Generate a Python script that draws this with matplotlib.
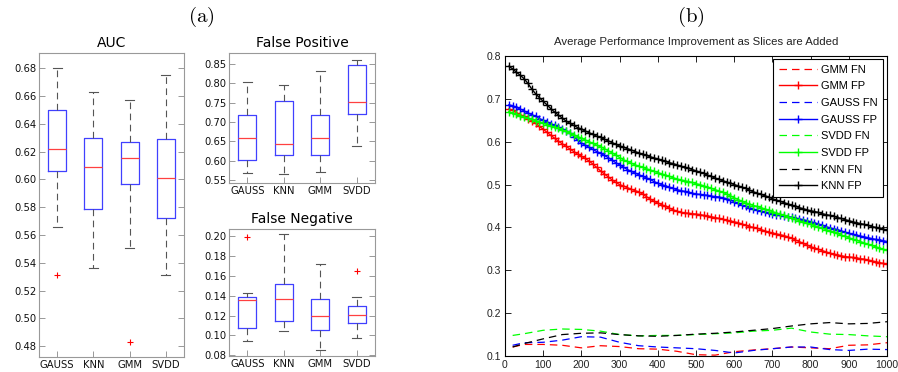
import matplotlib
matplotlib.use('Agg')
import matplotlib.pyplot as plt

plt.rcParams['mathtext.fontset'] = 'cm'

# ---- (a) boxplot summaries per classifier ----
methods = ['GAUSS', 'KNN', 'GMM', 'SVDD']

auc_med = [0.622, 0.609, 0.615, 0.601]
auc_q1 = [0.606, 0.579, 0.597, 0.572]
auc_q3 = [0.650, 0.630, 0.627, 0.629]
auc_lo = [0.566, 0.536, 0.551, 0.531]
auc_hi = [0.680, 0.663, 0.657, 0.675]
auc_out = [[0.531], [], [0.483], []]

fp_med = [0.660, 0.644, 0.658, 0.751]
fp_q1 = [0.602, 0.616, 0.616, 0.721]
fp_q3 = [0.717, 0.755, 0.717, 0.846]
fp_lo = [0.570, 0.565, 0.572, 0.638]
fp_hi = [0.803, 0.795, 0.831, 0.860]
fp_out = [[], [], [], []]

fn_med = [0.136, 0.137, 0.120, 0.121]
fn_q1 = [0.108, 0.115, 0.106, 0.113]
fn_q3 = [0.139, 0.152, 0.137, 0.130]
fn_lo = [0.094, 0.105, 0.085, 0.097]
fn_hi = [0.143, 0.202, 0.172, 0.139]
fn_out = [[0.199], [], [], [0.165]]

# ---- (b) error rate vs number of slices ----
x_fp = list(range(10, 1001, 10))
x_fn = [20, 50, 100, 150, 200, 250, 300, 350, 400, 450, 500,
        550, 600, 650, 700, 750, 800, 850, 900, 950, 1000]

gmm_fp = [0.676, 0.673, 0.668, 0.663, 0.659, 0.654, 0.649, 0.643, 0.636, 0.629,
          0.622, 0.615, 0.608, 0.601, 0.595, 0.589, 0.583, 0.577, 0.571, 0.566,
          0.561, 0.555, 0.548, 0.540, 0.532, 0.525, 0.518, 0.511, 0.505, 0.500,
          0.496, 0.493, 0.489, 0.486, 0.483, 0.478, 0.472, 0.466, 0.461, 0.457,
          0.453, 0.449, 0.445, 0.441, 0.438, 0.435, 0.434, 0.433, 0.432, 0.431,
          0.430, 0.428, 0.427, 0.425, 0.423, 0.421, 0.419, 0.417, 0.415, 0.413,
          0.411, 0.408, 0.405, 0.402, 0.400, 0.398, 0.395, 0.392, 0.389, 0.387,
          0.385, 0.383, 0.381, 0.378, 0.375, 0.371, 0.367, 0.363, 0.359, 0.355,
          0.352, 0.349, 0.346, 0.343, 0.340, 0.338, 0.336, 0.334, 0.332, 0.331,
          0.330, 0.329, 0.327, 0.326, 0.324, 0.322, 0.320, 0.318, 0.316, 0.315]

gauss_fp = [0.686, 0.684, 0.680, 0.676, 0.672, 0.667, 0.663, 0.659, 0.654, 0.650,
            0.646, 0.642, 0.638, 0.634, 0.630, 0.626, 0.620, 0.612, 0.604, 0.597,
            0.592, 0.587, 0.582, 0.577, 0.573, 0.568, 0.563, 0.557, 0.551, 0.546,
            0.541, 0.535, 0.531, 0.527, 0.523, 0.519, 0.516, 0.512, 0.507, 0.503,
            0.500, 0.497, 0.494, 0.491, 0.488, 0.486, 0.484, 0.482, 0.480, 0.478,
            0.477, 0.476, 0.475, 0.473, 0.472, 0.471, 0.469, 0.467, 0.464, 0.460,
            0.456, 0.452, 0.449, 0.446, 0.443, 0.440, 0.438, 0.436, 0.434, 0.432,
            0.430, 0.429, 0.427, 0.425, 0.424, 0.422, 0.420, 0.418, 0.416, 0.413,
            0.411, 0.408, 0.405, 0.402, 0.399, 0.397, 0.395, 0.392, 0.389, 0.386,
            0.384, 0.382, 0.380, 0.378, 0.376, 0.374, 0.372, 0.371, 0.369, 0.367]

svdd_fp = [0.670, 0.667, 0.664, 0.661, 0.658, 0.655, 0.652, 0.649, 0.646, 0.643,
           0.640, 0.637, 0.634, 0.631, 0.628, 0.624, 0.620, 0.616, 0.612, 0.608,
           0.604, 0.600, 0.596, 0.592, 0.588, 0.584, 0.579, 0.574, 0.569, 0.563,
           0.558, 0.554, 0.550, 0.546, 0.543, 0.540, 0.537, 0.534, 0.531, 0.528,
           0.525, 0.522, 0.519, 0.516, 0.513, 0.511, 0.509, 0.507, 0.505, 0.502,
           0.500, 0.497, 0.494, 0.491, 0.488, 0.485, 0.482, 0.478, 0.474, 0.469,
           0.465, 0.461, 0.457, 0.454, 0.451, 0.449, 0.446, 0.443, 0.440, 0.437,
           0.434, 0.431, 0.428, 0.425, 0.422, 0.419, 0.416, 0.413, 0.410, 0.407,
           0.404, 0.401, 0.398, 0.395, 0.392, 0.389, 0.386, 0.382, 0.379, 0.376,
           0.373, 0.370, 0.367, 0.364, 0.361, 0.358, 0.355, 0.352, 0.349, 0.347]

knn_fp = [0.776, 0.770, 0.762, 0.755, 0.747, 0.736, 0.723, 0.712, 0.703, 0.694,
          0.686, 0.677, 0.669, 0.662, 0.655, 0.648, 0.643, 0.638, 0.633, 0.629,
          0.625, 0.621, 0.617, 0.613, 0.610, 0.606, 0.602, 0.598, 0.594, 0.590,
          0.587, 0.584, 0.581, 0.577, 0.574, 0.571, 0.568, 0.565, 0.562, 0.560,
          0.557, 0.554, 0.551, 0.549, 0.546, 0.543, 0.540, 0.538, 0.535, 0.532,
          0.529, 0.526, 0.522, 0.519, 0.515, 0.512, 0.509, 0.506, 0.503, 0.500,
          0.497, 0.494, 0.491, 0.487, 0.483, 0.480, 0.477, 0.474, 0.471, 0.467,
          0.464, 0.461, 0.458, 0.455, 0.452, 0.449, 0.446, 0.444, 0.441, 0.439,
          0.437, 0.435, 0.432, 0.430, 0.428, 0.426, 0.423, 0.421, 0.418, 0.416,
          0.413, 0.411, 0.409, 0.407, 0.405, 0.402, 0.400, 0.398, 0.396, 0.394]

gmm_fn = [0.121, 0.127, 0.127, 0.125, 0.119, 0.124, 0.122, 0.117, 0.116, 0.111, 0.103,
          0.102, 0.110, 0.114, 0.117, 0.121, 0.119, 0.117, 0.125, 0.126, 0.131]
gauss_fn = [0.125, 0.131, 0.132, 0.137, 0.145, 0.144, 0.132, 0.124, 0.121, 0.119, 0.117,
            0.113, 0.107, 0.113, 0.117, 0.121, 0.121, 0.115, 0.113, 0.116, 0.115]
svdd_fn = [0.148, 0.152, 0.160, 0.163, 0.162, 0.158, 0.150, 0.147, 0.148, 0.148, 0.150,
           0.152, 0.154, 0.158, 0.160, 0.165, 0.156, 0.151, 0.150, 0.147, 0.145]
knn_fn = [0.121, 0.129, 0.140, 0.150, 0.153, 0.154, 0.150, 0.147, 0.146, 0.148, 0.151,
          0.153, 0.156, 0.160, 0.164, 0.170, 0.175, 0.178, 0.175, 0.176, 0.180]

series = [('GMM', 'r', gmm_fn, gmm_fp),
          ('GAUSS', 'b', gauss_fn, gauss_fp),
          ('SVDD', '#00ff00', svdd_fn, svdd_fp),
          ('KNN', 'k', knn_fn, knn_fp)]


def make_stats(med, q1, q3, lo, hi, out):
    return [dict(med=med[i], q1=q1[i], q3=q3[i], whislo=lo[i], whishi=hi[i],
                 fliers=out[i], label=methods[i]) for i in range(len(methods))]


def draw_box(ax, stats, title, ylim, yticks):
    ax.bxp(stats, positions=[1, 2, 3, 4], widths=0.5,
           boxprops=dict(color='#4040ff', lw=0.9),
           medianprops=dict(color='#ff4040', lw=0.9),
           whiskerprops=dict(color='#555555', lw=0.8, ls=(0, (6, 4))),
           capprops=dict(color='#555555', lw=0.8),
           flierprops=dict(marker='+', markeredgecolor='r', markersize=4, mew=0.8))
    ax.set_xlim(0.5, 4.5)
    ax.set_ylim(*ylim)
    ax.set_yticks(yticks)
    ax.set_yticklabels(['%.2f' % t for t in yticks])
    ax.set_title(title, fontsize=10, pad=4)
    ax.tick_params(direction='in', length=4, width=0.6, color='#888888',
                   labelsize=7.2, labelcolor='#111111', right=True, pad=2)
    for s in ax.spines.values():
        s.set_color('#999999')
        s.set_linewidth(0.8)


fig = plt.figure(figsize=(8.98, 3.72), dpi=100)
W, H = 898, 372


def px_axes(l, t, r, b):
    return fig.add_axes([l / W, 1 - b / H, (r - l) / W, (b - t) / H])


ax_auc = px_axes(39, 53, 184, 357)
ax_fp = px_axes(229, 53, 375, 183)
ax_fn = px_axes(229, 229, 375, 356)
ax_b = px_axes(505, 56, 887, 356)

draw_box(ax_auc, make_stats(auc_med, auc_q1, auc_q3, auc_lo, auc_hi, auc_out),
         'AUC', (0.4723, 0.6908), [0.48 + 0.02 * i for i in range(11)])
draw_box(ax_fp, make_stats(fp_med, fp_q1, fp_q3, fp_lo, fp_hi, fp_out),
         'False Positive', (0.5431, 0.8776), [0.55 + 0.05 * i for i in range(7)])
draw_box(ax_fn, make_stats(fn_med, fn_q1, fn_q3, fn_lo, fn_hi, fn_out),
         'False Negative', (0.0793, 0.2074), [0.08 + 0.02 * i for i in range(7)])

# ---- (b) line chart ----
for name, c, fn, fp in series:
    ax_b.plot(x_fn, fn, color=c, lw=0.9, ls=(0, (6, 4)), label=name + ' FN')
    ax_b.plot(x_fp, fp, color=c, lw=1.0, marker='+', ms=6, mew=1.0, label=name + ' FP')

ax_b.set_xlim(0, 1000)
ax_b.set_ylim(0.1, 0.8)
ax_b.set_xticks(range(0, 1001, 100))
ax_b.set_yticks([0.1, 0.2, 0.3, 0.4, 0.5, 0.6, 0.7, 0.8])
ax_b.set_yticklabels(['0.1', '0.2', '0.3', '0.4', '0.5', '0.6', '0.7', '0.8'])
ax_b.tick_params(direction='in', length=4, width=0.6, top=True, right=True,
                 labelsize=7.5, labelcolor='#222222', pad=3)
for lab in ax_b.get_xticklabels() + ax_b.get_yticklabels():
    lab.set_family('Liberation Sans')
for s in ax_b.spines.values():
    s.set_linewidth(0.8)
ax_b.set_title('Average Performance Improvement as Slices are Added',
               fontsize=8.2, family='Liberation Sans', color='#222222', pad=8)

leg = ax_b.legend(loc='upper right', bbox_to_anchor=(0.9895, 0.99), borderaxespad=0,
                  prop=dict(family='Liberation Sans', size=8), handlelength=3.5,
                  handletextpad=0.3, labelspacing=0.6, borderpad=0.5,
                  fancybox=False, framealpha=1, edgecolor='k')
leg.get_frame().set_linewidth(0.8)

fig.text(201 / W, 1 - 17 / H, r'$\mathrm{(a)}$', fontsize=15, ha='center', va='center')
fig.text(691 / W, 1 - 17 / H, r'$\mathrm{(b)}$', fontsize=15, ha='center', va='center')

fig.savefig('out.png', dpi=100)
